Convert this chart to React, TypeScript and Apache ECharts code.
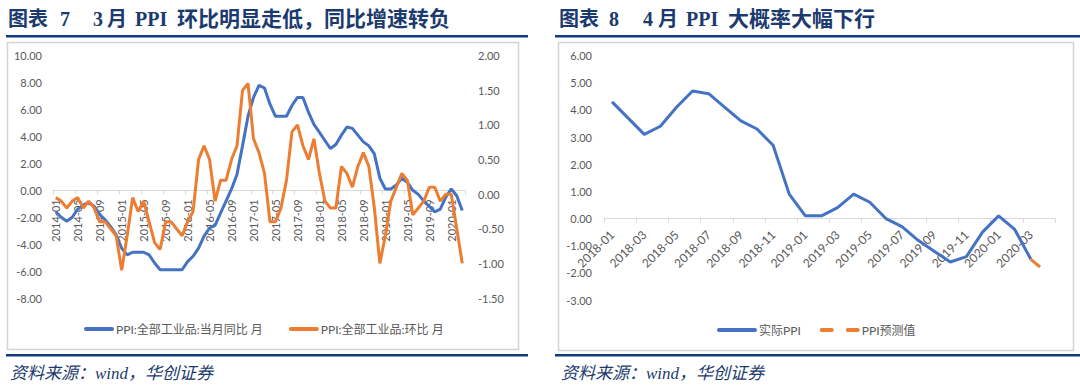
import React, { useEffect, useRef } from "react";
import * as echarts from "echarts";

function monthRange(year: number, month: number, count: number): string[] {
  const out: string[] = [];
  let y = year;
  let m = month;
  for (let i = 0; i < count; i++) {
    out.push(`${y}-${m < 10 ? "0" + m : m}`);
    m++;
    if (m > 12) { m = 1; y++; }
  }
  return out;
}

// Chart 7: 2014-01 .. 2020-03
const categories7 = monthRange(2014, 1, 75);
const yoy7 = [
  -1.6, -2.0, -2.3, -2.0, -1.4, -1.1, -0.9, -1.2, -1.8, -2.2, -2.7, -3.3,
  -4.3, -4.8, -4.6, -4.6, -4.6, -4.8, -5.4, -5.9, -5.9, -5.9, -5.9, -5.9,
  -5.3, -4.9, -4.3, -3.4, -2.8, -2.6, -1.7, -0.8, 0.1, 1.2, 3.3, 5.5,
  6.9, 7.8, 7.6, 6.4, 5.5, 5.5, 5.5, 6.3, 6.9, 6.9, 5.8, 4.9,
  4.3, 3.7, 3.1, 3.4, 4.1, 4.7, 4.6, 4.1, 3.6, 3.3, 2.7, 0.9,
  0.1, 0.1, 0.4, 0.9, 0.6, 0.0, -0.3, -0.8, -1.2, -1.6, -1.4, -0.5,
  0.1, -0.4, -1.5,
];
const mom7 = [
  -0.05, -0.1, -0.2, -0.1, -0.05, -0.2, -0.1, -0.2, -0.4, -0.4, -0.5, -0.6,
  -1.1, -0.6, -0.05, -0.25, -0.1, -0.4, -0.7, -0.8, -0.4, -0.4, -0.5, -0.6,
  -0.4, -0.25, 0.5, 0.7, 0.5, -0.1, 0.2, 0.2, 0.5, 0.7, 1.5, 1.6,
  0.8, 0.6, 0.3, -0.4, -0.4, -0.2, 0.2, 0.9, 1.0, 0.7, 0.5, 0.8,
  0.3, -0.1, -0.2, -0.2, 0.4, 0.3, 0.1, 0.4, 0.6, 0.4, -0.2, -1.0,
  -0.6, -0.1, 0.1, 0.3, 0.2, -0.3, -0.2, -0.1, 0.1, 0.1, -0.1, 0.0,
  0.0, -0.5, -1.0,
];

// Chart 8: 2018-01 .. 2020-04
const categories8 = monthRange(2018, 1, 28);
const actual8 = [
  4.3, 3.7, 3.1, 3.4, 4.1, 4.7, 4.6, 4.1, 3.6, 3.3, 2.7, 0.9,
  0.1, 0.1, 0.4, 0.9, 0.6, 0.0, -0.3, -0.8, -1.2, -1.6, -1.4, -0.5,
  0.1, -0.4, -1.5, null,
];
const forecast8 = [
  null, null, null, null, null, null, null, null, null, null, null, null,
  null, null, null, null, null, null, null, null, null, null, null, null,
  null, null, -1.5, -2.0,
];

// axis ranges
const left7Range = { min: -8, max: 10, interval: 2 };
const right7Range = { min: -1.5, max: 2, interval: 0.5 };
const y8Range = { min: -3, max: 6, interval: 1 };

const legend7 = ["PPI:全部工业品:当月同比 月", "PPI:全部工业品:环比 月"];
const legend8 = ["实际PPI", "PPI预测值"];
const title7Parts = [
  { t: "图表", x: 8, s: 20 },
  { t: "7", x: 60, s: 20 },
  { t: "3", x: 93, s: 20 },
  { t: "月", x: 107, s: 20 },
  { t: "PPI", x: 135, s: 20 },
  { t: "环比明显走低，同比增速转负", x: 177, s: 21 },
];
const title8Parts = [
  { t: "图表", x: 559, s: 20 },
  { t: "8", x: 609, s: 20 },
  { t: "4", x: 643, s: 20 },
  { t: "月", x: 658, s: 20 },
  { t: "PPI", x: 686, s: 20 },
  { t: "大概率大幅下行", x: 728, s: 21 },
];
const sourceText = "资料来源：wind，华创证券";

const BLUE = "#4472C4";
const ORANGE = "#ED7D31";
const NAVY = "#0F3C7E";
const TITLE = "#1B3A6E";
const GREY = "#595959";
const AXIS = "#D9D9D9";
const LABEL_FONT = "Lato, 'Noto Sans CJK SC', sans-serif";
const TITLE_FONT = "'Liberation Serif', 'Noto Sans CJK SC', serif";

const H = 387;
const grid7 = { left: 53, right: 615, top: 55.7, bottom: 89 };
const grid8 = { left: 604, right: 25, top: 55.7, bottom: 87 };

const fmt = (v: number) => v.toFixed(2);
// distance (px) from grid bottom to the value 0 on a value axis
const zeroOffset = (g: { top: number; bottom: number }, r: { min: number; max: number }) =>
  ((0 - r.min) / (r.max - r.min)) * (H - g.top - g.bottom);

export default function App() {
  const ref = useRef<HTMLDivElement>(null);
  useEffect(() => {
    if (!ref.current) return;
    const chart = echarts.init(ref.current, undefined, { renderer: "svg" });

    const titleEls = [...title7Parts, ...title8Parts].map((p) => ({
      type: "text",
      x: p.x,
      y: 19,
      style: {
        text: p.t,
        fontSize: p.s,
        fontWeight: "bold",
        fontFamily: TITLE_FONT,
        fill: TITLE,
        verticalAlign: "middle",
      },
    }));

    const label = { fontSize: 11, color: GREY, fontFamily: LABEL_FONT };
    const solidIcon = "path://M2,0h26a2,2 0 0 1 0,4h-26a2,2 0 0 1 0,-4z";
    const solidIcon40 = "path://M2,0h36a2,2 0 0 1 0,4h-36a2,2 0 0 1 0,-4z";
    const dashIcon40 = "path://M2,0h10a2,2 0 0 1 0,4h-10a2,2 0 0 1 0,-4z M28,0h10a2,2 0 0 1 0,4h-10a2,2 0 0 1 0,-4z";
    const srcStyle = { text: sourceText, fontSize: 17, fontStyle: "italic", fontFamily: TITLE_FONT, fill: TITLE, verticalAlign: "middle" };

    chart.setOption({
      animation: false,
      backgroundColor: "#ffffff",
      graphic: [
        ...titleEls,
        { type: "rect", shape: { x: 6, y: 35, width: 522, height: 2.5 }, style: { fill: NAVY } },
        { type: "rect", shape: { x: 555, y: 35, width: 525, height: 2.5 }, style: { fill: NAVY } },
        { type: "rect", shape: { x: 7.5, y: 42.5, width: 511, height: 307 }, style: { fill: "none", stroke: "#D4D4D4", lineWidth: 1.5 } },
        { type: "rect", shape: { x: 558.5, y: 42.5, width: 515, height: 308 }, style: { fill: "none", stroke: "#D4D4D4", lineWidth: 1.5 } },
        { type: "rect", shape: { x: 6, y: 354, width: 522, height: 2.5 }, style: { fill: NAVY } },
        { type: "rect", shape: { x: 555, y: 354, width: 525, height: 2.5 }, style: { fill: NAVY } },
        { type: "text", x: 10, y: 373, style: srcStyle },
        { type: "text", x: 561, y: 373, style: srcStyle },
      ],
      grid: [grid7, grid8],
      legend: [
        {
          data: [
            { name: legend7[0], icon: solidIcon },
            { name: legend7[1], icon: solidIcon },
          ],
          left: 79,
          top: 318,
          itemWidth: 30,
          itemHeight: 4,
          itemGap: 26,
          itemStyle: { borderWidth: 0 },
          textStyle: { fontSize: 12, color: GREY, fontFamily: LABEL_FONT, padding: [0, 0, 0, -3] },
        },
        {
          data: [
            { name: legend8[0], icon: solidIcon40 },
            { name: legend8[1], icon: dashIcon40 },
          ],
          left: 712,
          top: 319,
          itemWidth: 40,
          itemHeight: 4,
          itemGap: 19,
          itemStyle: { borderWidth: 0 },
          textStyle: { fontSize: 12, color: GREY, fontFamily: LABEL_FONT, padding: [0, 0, 0, -3] },
        },
      ],
      xAxis: [
        {
          type: "category",
          gridIndex: 0,
          data: categories7,
          boundaryGap: true,
          position: "bottom",
          offset: -zeroOffset(grid7, left7Range),
          axisLine: { onZero: false, lineStyle: { color: AXIS, width: 1 } },
          axisTick: { show: true, interval: 3, length: 4, lineStyle: { color: AXIS } },
          axisLabel: { ...label, interval: 3, rotate: 90, margin: 9 },
          splitLine: { show: false },
        },
        {
          type: "category",
          gridIndex: 1,
          data: categories8,
          boundaryGap: true,
          position: "bottom",
          offset: -zeroOffset(grid8, y8Range),
          axisLine: { onZero: false, lineStyle: { color: AXIS, width: 1 } },
          axisTick: { show: true, interval: 1, length: 4, lineStyle: { color: AXIS } },
          axisLabel: { ...label, fontSize: 12, interval: 1, rotate: 45, margin: 14 },
          splitLine: { show: false },
        },
      ],
      yAxis: [
        {
          type: "value",
          gridIndex: 0,
          ...left7Range,
          axisLine: { show: false },
          axisTick: { show: false },
          splitLine: { show: false },
          axisLabel: { ...label, margin: 11, formatter: fmt },
        },
        {
          type: "value",
          gridIndex: 0,
          position: "right",
          ...right7Range,
          axisLine: { show: false },
          axisTick: { show: false },
          splitLine: { show: false },
          axisLabel: { ...label, margin: 13, formatter: fmt },
        },
        {
          type: "value",
          gridIndex: 1,
          ...y8Range,
          axisLine: { show: false },
          axisTick: { show: false },
          splitLine: { show: false },
          axisLabel: { ...label, margin: 12, formatter: fmt },
        },
      ],
      series: [
        {
          name: legend7[0],
          type: "line",
          xAxisIndex: 0,
          yAxisIndex: 0,
          data: yoy7,
          symbol: "none",
          color: BLUE,
          lineStyle: { color: BLUE, width: 3 },
        },
        {
          name: legend7[1],
          type: "line",
          xAxisIndex: 0,
          yAxisIndex: 1,
          data: mom7,
          symbol: "none",
          color: ORANGE,
          lineStyle: { color: ORANGE, width: 3 },
        },
        {
          name: legend8[0],
          type: "line",
          xAxisIndex: 1,
          yAxisIndex: 2,
          data: actual8,
          symbol: "none",
          color: BLUE,
          lineStyle: { color: BLUE, width: 3 },
        },
        {
          name: legend8[1],
          type: "line",
          xAxisIndex: 1,
          yAxisIndex: 2,
          data: forecast8,
          symbol: "none",
          color: ORANGE,
          lineStyle: { color: ORANGE, width: 3, type: [12, 12] },
        },
      ],
    });
    return () => chart.dispose();
  }, []);
  return (
    <div
      ref={ref}
      style={{ position: "fixed", left: 0, top: 0, width: 1080, height: 387, background: "#fff" }}
    />
  );
}
